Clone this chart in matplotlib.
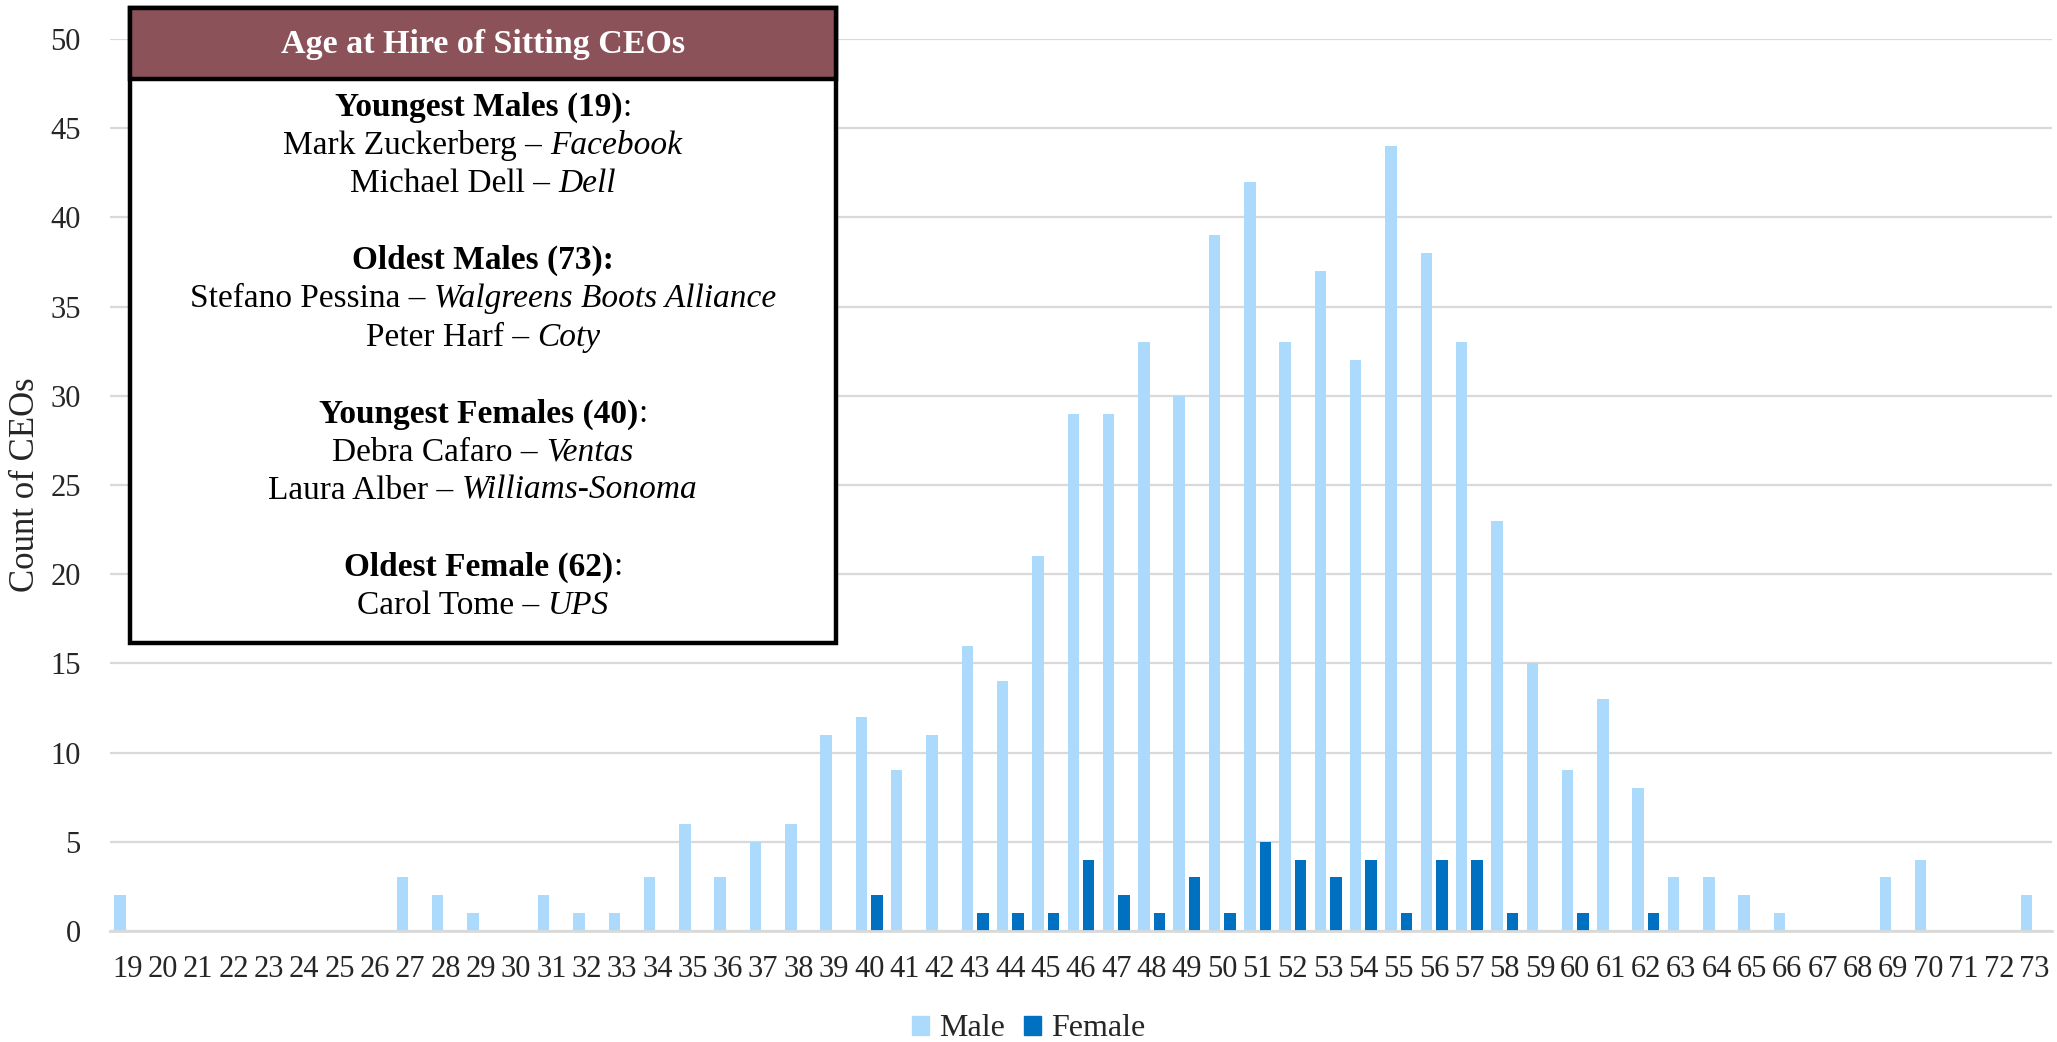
import matplotlib
matplotlib.use("Agg")
import matplotlib.pyplot as plt
from matplotlib.patches import Rectangle, Patch
import numpy as np

# ---- data -------------------------------------------------------------
ages = list(range(19, 74))
male_counts = [2, 0, 0, 0, 0, 0, 0, 0, 3, 2, 1, 0, 2, 1, 1, 3, 6, 3, 5, 6,
               11, 12, 9, 11, 16, 14, 21, 29, 29, 33, 30, 39, 42, 33, 37, 32,
               44, 38, 33, 23, 15, 9, 13, 8, 3, 3, 2, 1, 0, 0, 3, 4, 0, 0, 2]
female_by_age = {40: 2, 43: 1, 44: 1, 45: 1, 46: 4, 47: 2, 48: 1, 49: 3, 50: 1,
                 51: 5, 52: 4, 53: 3, 54: 4, 55: 1, 56: 4, 57: 4, 58: 1, 60: 1,
                 62: 1}
female_counts = [female_by_age.get(a, 0) for a in ages]

box_title = "Age at Hire of Sitting CEOs"
# each line: list of (text, weight, style); None = blank line
box_lines = [
    [("Youngest Males (19)", "bold", "normal"), (":", "normal", "normal")],
    [("Mark Zuckerberg –", "normal", "normal"), ("Facebook", "normal", "italic")],
    [("Michael Dell –", "normal", "normal"), ("Dell", "normal", "italic")],
    None,
    [("Oldest Males (73):", "bold", "normal")],
    [("Stefano Pessina –", "normal", "normal"), ("Walgreens Boots Alliance", "normal", "italic")],
    [("Peter Harf –", "normal", "normal"), ("Coty", "normal", "italic")],
    None,
    [("Youngest Females (40)", "bold", "normal"), (":", "normal", "normal")],
    [("Debra Cafaro –", "normal", "normal"), ("Ventas", "normal", "italic")],
    [("Laura Alber –", "normal", "normal"), ("Williams-Sonoma", "normal", "italic")],
    None,
    [("Oldest Female (62)", "bold", "normal"), (":", "normal", "normal")],
    [("Carol Tome –", "normal", "normal"), ("UPS", "normal", "italic")],
]

MALE_COLOR = "#ACDAFD"
FEMALE_COLOR = "#0070C0"
HEADER_COLOR = "#8B525A"
GRID_COLOR = "#D9D9D9"
FONT = "Liberation Serif"

W, H = 2057, 1042
plt.rcParams["font.family"] = FONT

fig = plt.figure(figsize=(W / 100, H / 100), dpi=100)
ax = fig.add_axes([110 / W, 1 - 931 / H, (2052 - 110) / W, (931 - 39) / H])

x = np.arange(len(ages))
bw = 0.325
off = 0.219
ax.bar(x - off, male_counts, bw, color=MALE_COLOR, zorder=2)
ax.bar(x + off, female_counts, bw, color=FEMALE_COLOR, zorder=2)

ax.set_xlim(-0.5, len(ages) - 0.5)
ax.set_ylim(0, 50)
ax.set_yticks(range(0, 51, 5))
ax.set_xticks(x)
ax.set_xticklabels([str(a) for a in ages])
ax.yaxis.grid(True, color=GRID_COLOR, linewidth=1.6, zorder=0)
ax.set_axisbelow(True)
for side in ["top", "right", "left"]:
    ax.spines[side].set_visible(False)
ax.spines["bottom"].set_color(GRID_COLOR)
ax.spines["bottom"].set_linewidth(2)
ax.tick_params(axis="both", length=0, labelsize=22, colors="#262626")
ax.tick_params(axis="x", pad=17)
ax.tick_params(axis="y", pad=21)
ax.set_ylabel("Count of CEOs", fontsize=25, color="#262626", labelpad=6)

# legend
handles = [Patch(color=MALE_COLOR, label="Male"), Patch(color=FEMALE_COLOR, label="Female")]
fig.legend(handles=handles, loc="center", bbox_to_anchor=(0.5, 1 - 1029 / H),
           ncol=2, frameon=False, fontsize=23, handlelength=0.55, handleheight=0.55,
           handletextpad=0.3, columnspacing=0.6, labelcolor="#262626")


# ---- annotation box (pixel coords) --------------------------------------
def fx(px):
    return px / W


def fy(py):
    return 1 - py / H


bx0, bx1, by0, by1, hdr = 130, 836, 8, 643, 79
fig.add_artist(Rectangle((fx(bx0), fy(by1)), fx(bx1 - bx0), (by1 - by0) / H,
                         transform=fig.transFigure, facecolor="white",
                         edgecolor="black", linewidth=3.2, zorder=5))
fig.add_artist(Rectangle((fx(bx0), fy(hdr)), fx(bx1 - bx0), (hdr - by0) / H,
                         transform=fig.transFigure, facecolor=HEADER_COLOR,
                         edgecolor="black", linewidth=3.2, zorder=6))
fig.text(fx((bx0 + bx1) / 2), fy((by0 + hdr) / 2 + 1), box_title, ha="center",
         va="center", color="white", fontsize=24.5, fontweight="bold", zorder=7)

BOX_FS = 24
fig.canvas.draw()
renderer = fig.canvas.get_renderer()
probe = fig.text(0, 0, "x x", fontsize=BOX_FS)
w2 = probe.get_window_extent(renderer).width
probe.set_text("xx")
space_w = w2 - probe.get_window_extent(renderer).width
probe.remove()

cx = (bx0 + bx1) / 2
line_y0 = 107.6
line_step = 38.3
for i, line in enumerate(box_lines):
    if line is None:
        continue
    y = line_y0 + i * line_step
    texts = []
    widths = []
    for j, (s, weight, style) in enumerate(line):
        t = fig.text(0, fy(y), s, ha="left", va="center", fontsize=BOX_FS,
                     fontweight=weight, fontstyle=style, color="black", zorder=7)
        texts.append(t)
        widths.append(t.get_window_extent(renderer).width)
    gaps = [0] + [0 if s.startswith(":") else space_w for s, _, _ in line[1:]]
    total = sum(widths) + sum(gaps)
    pos = cx - total / 2
    for t, w, g in zip(texts, widths, gaps):
        pos += g
        t.set_x(fx(pos))
        pos += w

fig.savefig("out.png", dpi=100)
